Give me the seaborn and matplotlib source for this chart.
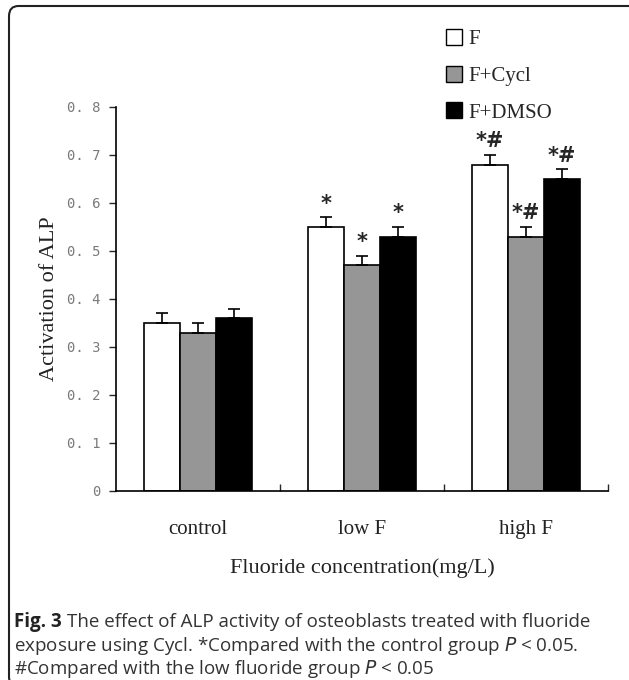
import matplotlib
matplotlib.use("Agg")
import matplotlib.pyplot as plt
from matplotlib.patches import FancyBboxPatch, Patch
import seaborn as sns
import pandas as pd
import numpy as np

# data
groups = ["control", "low F", "high F"]
treatments = ["F", "F+Cycl", "F+DMSO"]
vals_F = [0.35, 0.55, 0.68]
vals_cycl = [0.33, 0.47, 0.53]
vals_dmso = [0.36, 0.53, 0.65]
err_F = [0.02, 0.02, 0.02]
err_cycl = [0.02, 0.02, 0.02]
err_dmso = [0.02, 0.02, 0.02]
marks_F = ["", "*", "*#"]
marks_cycl = ["", "*", "*#"]
marks_dmso = ["", "*", "*#"]
yticks = [0, 0.1, 0.2, 0.3, 0.4, 0.5, 0.6, 0.7, 0.8]
ytick_labels = ["0", "0. 1", "0. 2", "0. 3", "0. 4", "0. 5", "0. 6", "0. 7", "0. 8"]

df = pd.DataFrame({
    "group": groups * 3,
    "treat": [t for t in treatments for _ in groups],
    "value": vals_F + vals_cycl + vals_dmso,
})
errs = [err_F, err_cycl, err_dmso]
marks = [marks_F, marks_cycl, marks_dmso]
colors = ["white", "#969696", "black"]

sns.set_style("white")
serif = ["Liberation Serif", "DejaVu Serif"]

fig = plt.figure(figsize=(6.29, 6.80), dpi=100)
ax = fig.add_axes([116 / 629, 189 / 680, 492 / 629, 384 / 680])

sns.barplot(data=df, x="group", y="value", hue="treat", order=groups,
            hue_order=treatments, palette=colors, edgecolor="black",
            linewidth=1.2, width=0.66, saturation=1, errorbar=None,
            legend=False, ax=ax)

# error bars (upper half only) and significance marks
for cont, e, m in zip(ax.containers, errs, marks):
    for bar, ee, mm in zip(cont, e, m):
        xc = bar.get_x() + bar.get_width() / 2
        h = bar.get_height()
        ax.errorbar(xc, h, yerr=[[0], [ee]], color="black", capsize=4,
                    elinewidth=1.2, capthick=1.2, zorder=1)
        if mm:
            ax.text(xc, h + ee + 0.008, mm, ha="center", va="bottom",
                    fontsize=15, fontweight="bold", family=["DejaVu Sans"])

ax.set_xlim(-0.5, 2.5)
ax.set_ylim(0, 0.8)
ax.set_yticks(yticks)
ax.set_yticklabels(ytick_labels, color="#7a7a7a", fontsize=10,
                   family=["DejaVu Sans Mono"])
ax.set_xticks([0.5, 1.5, 2.5])
ax.set_xticklabels([])
ax.tick_params(axis="x", direction="in", length=5, width=1, bottom=True)
ax.tick_params(axis="y", direction="out", length=5, width=1, left=True, pad=6)
for i, g in enumerate(groups):
    ax.text(i, -0.08, g, ha="center", va="center", fontsize=15,
            family=serif, color="#222222")
ax.set_xlabel("")
ax.set_ylabel("Activation of ALP", fontsize=16, family=serif, color="#222222",
              labelpad=6)
sns.despine(ax=ax)
for s in ["left", "bottom"]:
    ax.spines[s].set_color("black")
    ax.spines[s].set_linewidth(1.2)

fig.text(362 / 629, 1 - 568 / 680, "Fluoride concentration(mg/L)", ha="center",
         va="center", fontsize=16, family=serif, color="#222222")

handles = [Patch(facecolor=c, edgecolor="black", linewidth=1) for c in colors]
fig.legend(handles, treatments, loc="upper left",
           bbox_to_anchor=(427 / 629, 1 - 10 / 680), frameon=False,
           handlelength=0.8, handleheight=0.8, handletextpad=0.3,
           labelspacing=0.8, prop={"family": serif, "size": 15})

# caption
cap_x = 14 / 629
cap_size = 13.5
t0 = fig.text(cap_x, 1 - 622 / 680, "Fig. 3", ha="left", va="center",
              fontsize=cap_size, fontweight="bold", family="Open Sans",
              color="#222222")
fig.canvas.draw()
bb = t0.get_window_extent().transformed(fig.transFigure.inverted())
fig.text(bb.x1 + 5 / 629, 1 - 622 / 680,
         "The effect of ALP activity of osteoblasts treated with fluoride",
         ha="left", va="center", fontsize=cap_size, family="Open Sans",
         color="#333333")
fig.text(cap_x, 1 - 646 / 680,
         "exposure using Cycl. *Compared with the control group $P$ < 0.05.",
         ha="left", va="center", fontsize=cap_size, family="Open Sans",
         color="#333333")
fig.text(cap_x, 1 - 669 / 680,
         "#Compared with the low fluoride group $P$ < 0.05",
         ha="left", va="center", fontsize=cap_size, family="Open Sans",
         color="#333333")

# rounded frame (only left and top edges fall inside the picture)
frame = FancyBboxPatch((9 / 629, -0.01), 1.2, 1 - 6 / 680 + 0.01,
                       boxstyle="round,pad=0,rounding_size=0.015",
                       transform=fig.transFigure, facecolor="none",
                       edgecolor="#222222", linewidth=1.5)
fig.patches.append(frame)

fig.savefig("out.png", dpi=100)
